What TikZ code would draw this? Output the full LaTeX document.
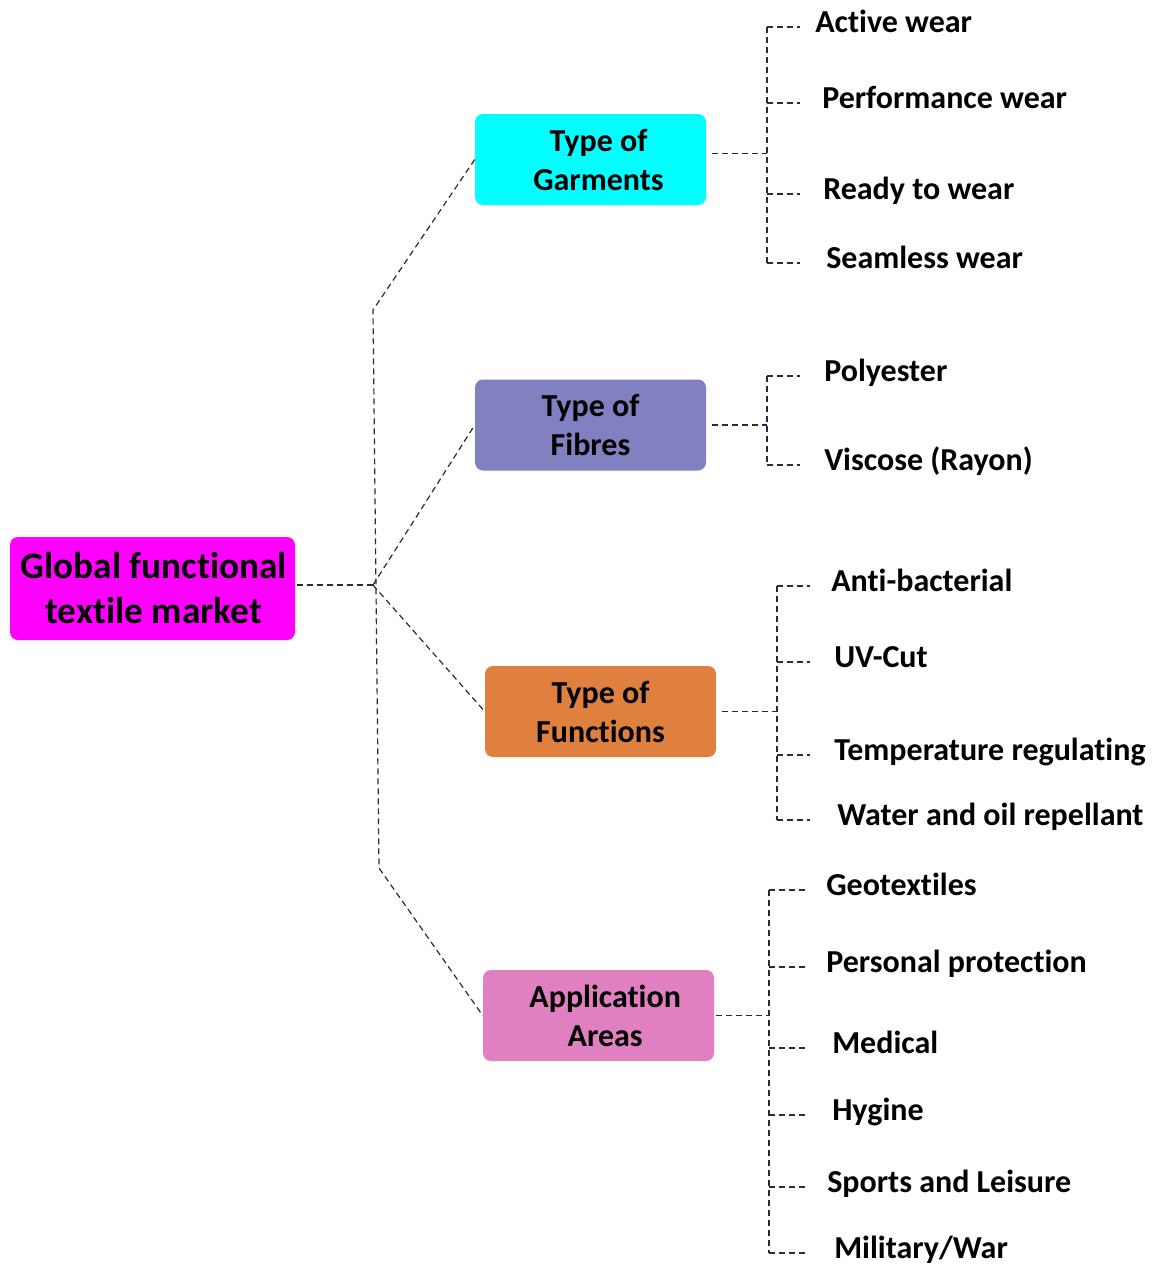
\documentclass[tikz,border=0pt]{standalone}
\usepackage{fontspec}
\setmainfont[RawFeature=-liga]{Carlito}
\definecolor{cMag}{HTML}{FF00FF}
\definecolor{cCyan}{HTML}{00FFFF}
\definecolor{cFib}{HTML}{8181C1}
\definecolor{cFun}{HTML}{E0803F}
\definecolor{cApp}{HTML}{E080C0}
\definecolor{cLine}{HTML}{2A2A38}
\tikzset{
  conn/.style={draw=cLine, line width=0.9pt, dash pattern=on 4.5pt off 3pt},
  catbox/.style={rounded corners=6pt, minimum width=173.25pt, minimum height=68.25pt,
    align=center, font=\bfseries\fontsize{24pt}{29.25pt}\selectfont, inner sep=0pt},
  rootbox/.style={rounded corners=6pt, fill=cMag, minimum width=213.75pt, minimum height=77.25pt,
    align=center, font=\bfseries\fontsize{28pt}{33.75pt}\selectfont, inner sep=0pt},
  leaf/.style={anchor=base west, inner sep=0pt, font=\bfseries\fontsize{24pt}{29pt}\selectfont},
}
\begin{document}
\begin{tikzpicture}[x=0.75pt,y=-0.75pt]
\useasboundingbox (0,0) rectangle (1158,1265);
% main nodes
\node[rootbox] (root) at (152.5,588.5) {\hspace*{2pt}Global functional\\\hspace*{2pt}textile market};
\node[catbox, fill=cCyan] (gar) at (590.5,159.5) {\hspace*{12pt}Type of\\\hspace*{12pt}Garments};
\node[catbox, fill=cFib] (fib) at (590.5,425) {Type of\\Fibres};
\node[catbox, fill=cFun] (fun) at (600.5,711.5) {Type of\\Functions};
\node[catbox, fill=cApp] (app) at (598.5,1015.5) {\hspace*{10pt}Application\\\hspace*{10pt}Areas};
% trunk coordinates
\coordinate (J) at (373,585);
\coordinate (T) at (373,310);
\coordinate (B) at (379,868);
\draw[conn] ([xshift=1.5pt]root.east |- J) -- (J);
\draw[conn] (gar.west) -- (T) -- (B) -- (app.west);
\draw[conn] (J) -- (fib.west);
\draw[conn] (J) -- (fun.west);
% leaves
\node[leaf] (g1) at (815,32) {Active wear};
\node[leaf] (g2) at (822,108) {Performance wear};
\node[leaf] (g3) at (823,199) {Ready to wear};
\node[leaf] (g4) at (826,268) {Seamless wear};
\node[leaf] (f1) at (824,381) {Polyester};
\node[leaf] (f2) at (824,470) {Viscose (Rayon)};
\node[leaf] (u1) at (831,591) {Anti-bacterial};
\node[leaf] (u2) at (834,667) {UV-Cut};
\node[leaf] (u3) at (834,760) {Temperature regulating};
\node[leaf] (u4) at (837,825) {Water and oil repellant};
\node[leaf] (a1) at (826,895) {Geotextiles};
\node[leaf] (a2) at (826,972) {Personal protection};
\node[leaf] (a3) at (832,1053) {Medical};
\node[leaf] (a4) at (832,1120) {Hygine};
\node[leaf] (a5) at (827,1192) {Sports and Leisure};
\node[leaf] (a6) at (834,1258) {Military/War};
% bracket columns
\coordinate (gx) at (767,0); \coordinate (ge) at (800,0);
\coordinate (fx) at (767,0); \coordinate (fe) at (800,0);
\coordinate (ux) at (777,0); \coordinate (ue) at (810,0);
\coordinate (ax) at (769,0); \coordinate (ae) at (805,0);
% garments
\draw[conn] ([xshift=4.5pt,yshift=4.5pt]gar.east) -- ([yshift=4.5pt]gar.east -| gx);
\draw[conn] ([yshift=3.75pt]g1.base west -| gx) -- ([yshift=3.75pt]g4.base west -| gx);
\foreach \n in {g1,g2,g3,g4}
  \draw[conn] ([yshift=3.75pt]\n.base west -| gx) -- ([yshift=3.75pt]\n.base west -| ge);
% fibres
\draw[conn] ([xshift=4.5pt]fib.east) -- (fib.east -| fx);
\draw[conn] ([yshift=3.75pt]f1.base west -| fx) -- ([yshift=3.75pt]f2.base west -| fx);
\foreach \n in {f1,f2}
  \draw[conn] ([yshift=3.75pt]\n.base west -| fx) -- ([yshift=3.75pt]\n.base west -| fe);
% functions
\draw[conn] ([xshift=4.5pt]fun.east) -- (fun.east -| ux);
\draw[conn] ([yshift=3.75pt]u1.base west -| ux) -- ([yshift=3.75pt]u4.base west -| ux);
\foreach \n in {u1,u2,u3,u4}
  \draw[conn] ([yshift=3.75pt]\n.base west -| ux) -- ([yshift=3.75pt]\n.base west -| ue);
% application
\draw[conn] ([xshift=1.5pt]app.east) -- (app.east -| ax);
\draw[conn] ([yshift=3.75pt]a1.base west -| ax) -- ([yshift=3.75pt]a6.base west -| ax);
\foreach \n in {a1,a2,a3,a4,a5,a6}
  \draw[conn] ([yshift=3.75pt]\n.base west -| ax) -- ([yshift=3.75pt]\n.base west -| ae);
\end{tikzpicture}
\end{document}
